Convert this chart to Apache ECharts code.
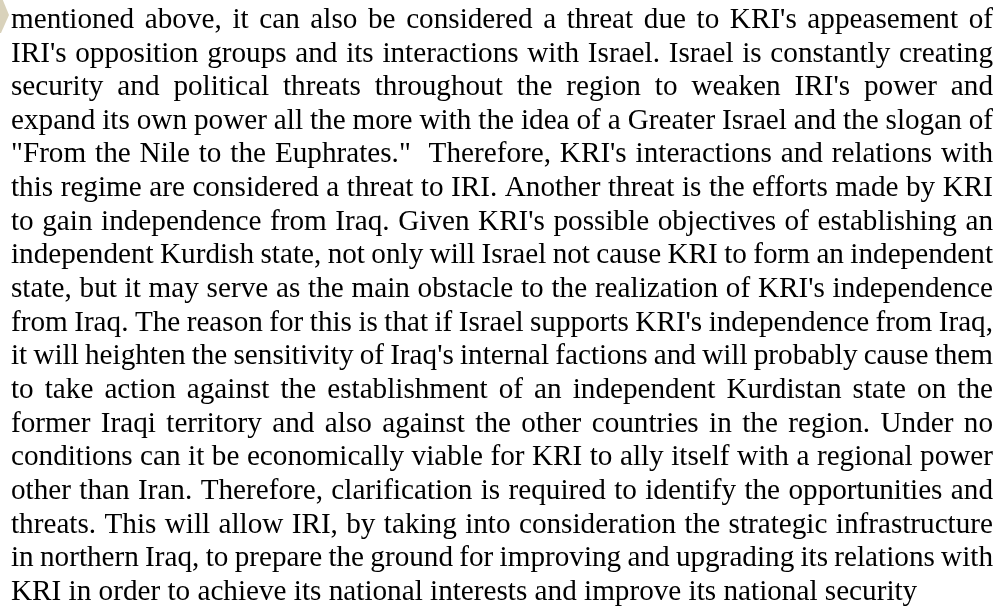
<!DOCTYPE html>
<html><head><meta charset="utf-8">
<script src="https://cdn.jsdelivr.net/npm/echarts@6/dist/echarts.min.js"></script>
<style>html,body{margin:0;padding:0;background:#fff;overflow:hidden}#c{width:1005px;height:611px}</style>
</head><body><div id="c"></div>
<script>
// Paragraph lines (as laid out in the reference)
const lines = [
  "mentioned above, it can also be considered a threat due to KRI's appeasement of",
  "IRI's opposition groups and its interactions with Israel. Israel is constantly creating",
  "security and political threats throughout the region to weaken IRI's power and",
  "expand its own power all the more with the idea of a Greater Israel and the slogan of",
  "\"From the Nile to the Euphrates.\"  Therefore, KRI's interactions and relations with",
  "this regime are considered a threat to IRI. Another threat is the efforts made by KRI",
  "to gain independence from Iraq. Given KRI's possible objectives of establishing an",
  "independent Kurdish state, not only will Israel not cause KRI to form an independent",
  "state, but it may serve as the main obstacle to the realization of KRI's independence",
  "from Iraq. The reason for this is that if Israel supports KRI's independence from Iraq,",
  "it will heighten the sensitivity of Iraq's internal factions and will probably cause them",
  "to take action against the establishment of an independent Kurdistan state on the",
  "former Iraqi territory and also against the other countries in the region. Under no",
  "conditions can it be economically viable for KRI to ally itself with a regional power",
  "other than Iran. Therefore, clarification is required to identify the opportunities and",
  "threats. This will allow IRI, by taking into consideration the strategic infrastructure",
  "in northern Iraq, to prepare the ground for improving and upgrading its relations with",
  "KRI in order to achieve its national interests and improve its national security"
];
const justifiedFlags = lines.map((l, i) => i < lines.length - 1);

const FONT_SIZE = 29.2;
const FONT = FONT_SIZE + 'px "Liberation Serif", "Times New Roman", serif';
const LEFT = 11, RIGHT = 993, FIRST_BASELINE = 28, LINE_STEP = 33.65;
const BOTTOM_TO_BASELINE = 6.7;
const TEXT_COLOR = '#000000';
const MARK_COLOR = '#d9d2bb';

const chart = echarts.init(document.getElementById('c'), null, {renderer: 'canvas'});
const mctx = document.createElement('canvas').getContext('2d');
mctx.font = FONT;
const spaceW = mctx.measureText(' ').width;

const elements = [];
elements.push({
  type: 'polygon', silent: true,
  shape: {points: [[0, -2], [2, -2], [9, 15], [1, 33], [0, 33]]},
  style: {fill: MARK_COLOR}
});

lines.forEach((line, i) => {
  const words = line.split(' ');
  const widths = words.map(w => mctx.measureText(w).width);
  const total = widths.reduce((a, b) => a + b, 0);
  const gap = (justifiedFlags[i] && words.length > 1)
    ? (RIGHT - LEFT - total) / (words.length - 1)
    : spaceW;
  const baseline = FIRST_BASELINE + i * LINE_STEP;
  let x = LEFT;
  words.forEach((w, j) => {
    if (w.length) {
      elements.push({
        type: 'text', silent: true, x: x, y: baseline + BOTTOM_TO_BASELINE,
        style: {text: w, font: FONT, fill: TEXT_COLOR, verticalAlign: 'bottom', align: 'left'}
      });
    }
    x += widths[j] + gap;
  });
});

chart.setOption({
  backgroundColor: '#ffffff',
  animation: false,
  graphic: {elements: elements}
});
</script>
</body></html>
